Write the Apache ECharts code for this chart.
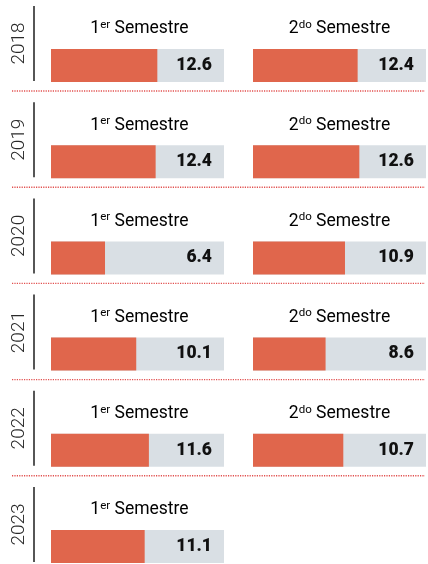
<!DOCTYPE html>
<html>
<head>
<meta charset="utf-8">
<script src="https://cdn.jsdelivr.net/npm/echarts@6/dist/echarts.min.js"></script>
<style>
  html, body { margin: 0; padding: 0; background: #fff; }
  #chart { width: 428px; height: 564px; }
</style>
</head>
<body>
<div id="chart"></div>
<script>
/* 数据 | Data */
const years = ["2018", "2019", "2020", "2021", "2022", "2023"];
const sem1 = [12.6, 12.4, 6.4, 10.1, 11.6, 11.1];
const sem2 = [12.4, 12.6, 10.9, 8.6, 10.7, null];
const semNums = ["1", "2"];
const semSups = ["er", "do"];
const semWord = "Semestre";
const scaleMax = 20.5;

/* 版式 | Layout */
const ORANGE = "#e0664c";
const TRACK = "#d9dfe4";
const ROW_STEP = 96.2;
const BAR_TOP0 = 49;
const BAR_H = 33;
const PANEL_LEFT = [51, 253];
const PANEL_W = 173;
const FONT = "Roboto, 'Noto Sans', sans-serif";

const chart = echarts.init(document.getElementById("chart"));

const grids = [];
const xAxes = [];
const yAxes = [];
const series = [];
const graphics = [];

years.forEach((year, r) => {
  const barTop = BAR_TOP0 + ROW_STEP * r;
  [sem1, sem2].forEach((arr, c) => {
    const v = arr[r];
    if (v == null) return;
    const idx = grids.length;
    grids.push({ left: PANEL_LEFT[c], top: barTop, width: PANEL_W, height: BAR_H });
    xAxes.push({ gridIndex: idx, type: "value", min: 0, max: scaleMax, show: false });
    yAxes.push({ gridIndex: idx, type: "category", data: [year], show: false });
    // grey track carrying the value label
    series.push({
      type: "bar",
      xAxisIndex: idx,
      yAxisIndex: idx,
      data: [scaleMax],
      barWidth: BAR_H,
      barGap: "-100%",
      silent: true,
      itemStyle: { color: TRACK },
      label: {
        show: true,
        position: "insideRight",
        distance: 12,
        formatter: () => v.toFixed(1),
        fontFamily: FONT,
        fontWeight: 900,
        fontSize: 17.5,
        color: "#111"
      },
      z: 1
    });
    series.push({
      type: "bar",
      xAxisIndex: idx,
      yAxisIndex: idx,
      data: [v],
      barWidth: BAR_H,
      barGap: "-100%",
      silent: true,
      itemStyle: { color: ORANGE },
      z: 2
    });
    graphics.push({
      type: "text",
      x: PANEL_LEFT[c] + PANEL_W / 2 + (c === 0 ? 2 : 0),
      y: barTop - 20,
      style: {
        text: `{n|${semNums[c]}}{s|${semSups[c]}}{w| ${semWord}}`,
        align: "center",
        verticalAlign: "middle",
        rich: {
          n: { fontFamily: FONT, fontSize: 17.5, color: "#2a2a2a", lineHeight: 20 },
          s: { fontFamily: FONT, fontSize: 11.5, color: "#2a2a2a", lineHeight: 20, verticalAlign: "top", padding: [0, 0, 6, 0] },
          w: { fontFamily: FONT, fontSize: 17.5, color: "#2a2a2a", lineHeight: 20 }
        }
      }
    });
  });

  // year axis line and label
  graphics.push({
    type: "line",
    shape: { x1: 34, y1: barTop - 43, x2: 34, y2: barTop + BAR_H - 1 },
    style: { stroke: "#1e1e1e", lineWidth: 1.5 }
  });
  graphics.push({
    type: "text",
    x: 19,
    y: barTop - 5.5,
    rotation: Math.PI / 2,
    style: {
      text: year,
      align: "center",
      verticalAlign: "middle",
      font: `300 19px ${FONT}`,
      fill: "#2a2a2a"
    }
  });

  // dotted separator
  if (r < years.length - 1) {
    const y = barTop + BAR_H + 9;
    graphics.push({
      type: "line",
      shape: { x1: 12, y1: y, x2: 425, y2: y },
      style: { stroke: "#e2504f", lineWidth: 1.4, lineDash: [1.2, 1.2] }
    });
  }
});

chart.setOption({
  animation: false,
  grid: grids,
  xAxis: xAxes,
  yAxis: yAxes,
  series: series,
  graphic: graphics
});

window.addEventListener("resize", () => chart.resize());
</script>
</body>
</html>
